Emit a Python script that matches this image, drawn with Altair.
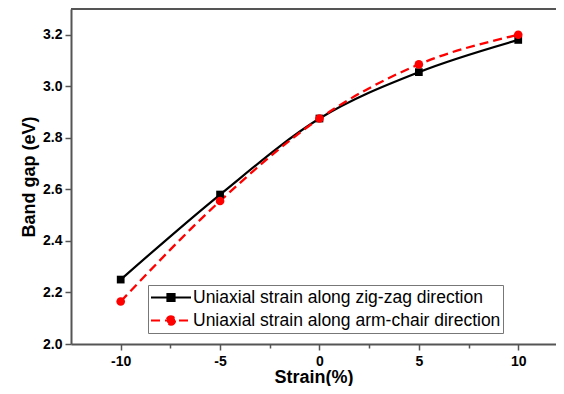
import altair as alt
import pandas as pd

strain = [-10, -5, 0, 5, 10]
zigzag = [2.25, 2.58, 2.875, 3.055, 3.18]
armchair = [2.165, 2.555, 2.875, 3.085, 3.20]
series_names = ["Uniaxial strain along zig-zag direction",
                "Uniaxial strain along arm-chair direction"]
x_ticks = [-10, -7.5, -5, -2.5, 0, 2.5, 5, 7.5, 10]
y_ticks = [2.0, 2.1, 2.2, 2.3, 2.4, 2.5, 2.6, 2.7, 2.8, 2.9, 3.0, 3.1, 3.2]
y_top = [3.3]

rows = []
for s, v in zip(strain, zigzag):
    rows.append({"series": series_names[0], "strain": s, "gap": v})
for s, v in zip(strain, armchair):
    rows.append({"series": series_names[1], "strain": s, "gap": v})
df = pd.DataFrame(rows)

FONT = "Liberation Sans"
AXC = "#555555"

xscale = alt.Scale(domain=[-12.5, 11.9], nice=False, zero=False)
yscale = alt.Scale(domain=[2.0, 3.3], nice=False, zero=False)
color_scale = alt.Scale(domain=series_names, range=["#000000", "#ff0000"])
dash_scale = alt.Scale(domain=series_names, range=[[1, 0], [9, 5]])
sq_path = "M-1,0H1M-0.18,-0.18H0.18V0.18H-0.18Z"
ci_path = "M-1,0H1M0.21,0A0.21,0.21 0 1,1 -0.21,0A0.21,0.21 0 1,1 0.21,0Z"
shape_scale = alt.Scale(domain=series_names, range=[sq_path, ci_path])

base = alt.Chart(df)

main_x = alt.Axis(values=x_ticks, title="Strain(%)",
                  labelExpr="datum.value % 5 == 0 ? replace(datum.label, '\u2212', '-') : ''",
                  tickSize={"condition": {"test": "datum.value % 5 != 0", "value": 4}, "value": 6},
                  labelPadding=4, titlePadding=0)
main_y = alt.Axis(values=y_ticks, title="Band gap (eV)",
                  labelExpr="round(datum.value * 10) % 2 == 0 ? format(datum.value, '.1f') : ''",
                  tickSize={"condition": {"test": "round(datum.value * 10) % 2 != 0", "value": 4}, "value": 6},
                  labelPadding=3, titlePadding=4)

zz_line = base.transform_filter(
    alt.datum.series == series_names[0]
).mark_line(interpolate="monotone", strokeWidth=2.2, color="#000000").encode(
    x=alt.X("strain:Q", scale=xscale, axis=main_x),
    y=alt.Y("gap:Q", scale=yscale, axis=main_y),
)

ac_line = base.transform_filter(
    alt.datum.series == series_names[1]
).mark_line(interpolate="monotone", strokeWidth=2.3, color="#ff0000",
            strokeDash=[9, 5]).encode(
    x=alt.X("strain:Q", scale=xscale),
    y=alt.Y("gap:Q", scale=yscale),
)

squares = base.transform_filter(
    alt.datum.series == series_names[0]
).mark_point(shape="square", filled=True, size=60, opacity=1, color="#000000").encode(
    x=alt.X("strain:Q", scale=xscale),
    y=alt.Y("gap:Q", scale=yscale),
)

circles = base.transform_filter(
    alt.datum.series == series_names[1]
).mark_point(shape="circle", filled=True, size=75, opacity=1, color="#ff0000").encode(
    x=alt.X("strain:Q", scale=xscale),
    y=alt.Y("gap:Q", scale=yscale),
)

top_border = alt.Chart(pd.DataFrame({"gap": y_top})).mark_rule(
    color=AXC, strokeWidth=2).encode(y=alt.Y("gap:Q", scale=yscale))

leg = alt.Legend(title=None, orient="none", legendX=77, legendY=276,
                 labelFont=FONT, labelFontSize=17.5, labelColor="#000",
                 symbolSize=1600, symbolStrokeWidth=2, symbolOpacity=1,
                 labelOffset=1, rowPadding=2, padding=2, clipHeight=21,
                 strokeColor="#777777", fillColor="#ffffff", labelLimit=400)

legend_layer = base.mark_point(filled=False, opacity=0, strokeWidth=2).encode(
    x=alt.X("strain:Q", scale=xscale),
    y=alt.Y("gap:Q", scale=yscale),
    color=alt.Color("series:N", scale=color_scale, legend=leg),
    fill=alt.Fill("series:N", scale=color_scale, legend=leg),
    shape=alt.Shape("series:N", scale=shape_scale, legend=leg),
    strokeDash=alt.StrokeDash("series:N", scale=dash_scale, legend=leg),
)

chart = alt.layer(zz_line, ac_line, squares, circles, top_border, legend_layer).properties(
    width=485, height=335, background="white",
    autosize=alt.AutoSizeParams(type="none"),
    padding={"left": 63, "top": 1, "right": 0, "bottom": 42},
).configure_view(stroke=None).configure_axis(
    labelFont=FONT, labelFontWeight="bold", labelFontSize=14, labelColor="#000",
    titleFont=FONT, titleFontWeight="bold", titleFontSize=18, titleColor="#000",
    tickWidth=1.5, tickColor=AXC, domainColor=AXC, domainWidth=2,
    grid=False, labelOverlap=False,
)

chart.save("out.html", embed_options={"renderer": "svg", "actions": False})
